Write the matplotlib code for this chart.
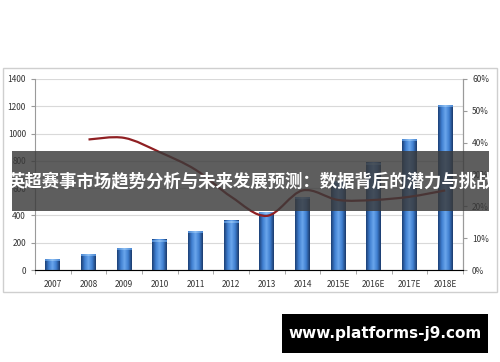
import numpy as np
import matplotlib.pyplot as plt
from matplotlib.colors import LinearSegmentedColormap
from matplotlib.patches import Rectangle, PathPatch
from matplotlib.path import Path
from matplotlib.ticker import FuncFormatter, MultipleLocator

plt.rcParams['font.family'] = ['Noto Sans CJK SC', 'DejaVu Sans']

# data
years = ['2007', '2008', '2009', '2010', '2011', '2012',
         '2013', '2014', '2015E', '2016E', '2017E', '2018E']
revenue = [80, 115, 160, 220, 285, 360, 420, 530, 650, 785, 960, 1205]
growth_years = years[1:]
growth = [41, 41.5, 37, 31.5, 23, 17, 25, 22, 22, 23, 25]

title = '英超赛事市场趋势分析与未来发展预测：数据背后的潜力与挑战'
site = 'www.platforms-j9.com'


def smooth_path(xs, ys, tension=1 / 6):
    # Catmull-Rom through the data points, as bezier segments
    verts = [(xs[0], ys[0])]
    codes = [Path.MOVETO]
    n = len(xs)
    for i in range(n - 1):
        x0, y0 = xs[max(i - 1, 0)], ys[max(i - 1, 0)]
        x1, y1 = xs[i], ys[i]
        x2, y2 = xs[i + 1], ys[i + 1]
        x3, y3 = xs[min(i + 2, n - 1)], ys[min(i + 2, n - 1)]
        c1 = (x1 + (x2 - x0) * tension, y1 + (y2 - y0) * tension)
        c2 = (x2 - (x3 - x1) * tension, y2 - (y3 - y1) * tension)
        verts += [c1, c2, (x2, y2)]
        codes += [Path.CURVE4] * 3
    return Path(verts, codes)


fig = plt.figure(figsize=(5, 3.62), dpi=100)

# chart frame
fig.patches.append(Rectangle((0.006, 0.193), 0.988, 0.619, transform=fig.transFigure,
                             facecolor='white', edgecolor='#cfcfcf', lw=1, zorder=-1))

ax = fig.add_axes([0.07, 0.2541, 0.856, 0.5277])
ax.set_facecolor('none')
x = np.arange(len(years))
bars = ax.bar(x, revenue, width=0.42, color='#3a74c0', zorder=2)

cmap = LinearSegmentedColormap.from_list('cyl', ['#1c3f75', '#3f7fd0', '#6aa6ec', '#3f7fd0', '#1a3a6c'])
grad = np.linspace(0, 1, 64).reshape(1, -1)
for b in bars:
    x0, w, h = b.get_x(), b.get_width(), b.get_height()
    ax.imshow(grad, extent=[x0, x0 + w, 0, h], cmap=cmap, aspect='auto', zorder=2.1)
    ax.imshow(grad, extent=[x0, x0 + w, h - 12, h], cmap=LinearSegmentedColormap.from_list(
        'cap', ['#4a86d0', '#8ec0f5', '#4a86d0']), aspect='auto', zorder=2.2)

ax.set_xlim(-0.5, len(years) - 0.5)
ax.set_ylim(0, 1400)
ax.yaxis.set_major_locator(MultipleLocator(200))
ax.grid(axis='y', color='#d9d9d9', lw=0.8, zorder=0)
ax.set_axisbelow(True)
ax.set_xticks(x)
ax.set_xticklabels(years)
ax.set_xticks(np.arange(-0.5, len(years)), minor=True)
ax.tick_params(axis='x', which='major', length=0, labelsize=6, labelcolor='#333333', pad=7)
ax.tick_params(axis='x', which='minor', length=3, color='#9a9a9a')
ax.tick_params(axis='y', labelsize=6, labelcolor='#333333', length=3, color='#9a9a9a')
ax.spines['top'].set_visible(False)
for s in ['left', 'bottom', 'right']:
    ax.spines[s].set_color('#9a9a9a')
    ax.spines[s].set_linewidth(0.8)

ax2 = ax.twinx()
ax2.set_ylim(0, 60)
ax2.yaxis.set_major_locator(MultipleLocator(10))
ax2.yaxis.set_major_formatter(FuncFormatter(lambda v, p: f'{int(v)}%'))
ax2.tick_params(axis='y', labelsize=6, labelcolor='#333333', length=3, color='#9a9a9a')
ax2.spines['top'].set_visible(False)
ax2.spines['right'].set_color('#9a9a9a')
ax2.spines['left'].set_visible(False)
gx = [years.index(g) for g in growth_years]
ax2.add_patch(PathPatch(smooth_path(gx, growth), facecolor='none',
                        edgecolor='#8f1f22', lw=1.6, zorder=3))

# title banner over the chart
fig.patches.append(Rectangle((0.024, 0.417), 0.954, 0.166, transform=fig.transFigure,
                             facecolor='#3a3a3a', alpha=0.82, edgecolor='none', zorder=5))
fig.text(0.501, 0.5, title, color='white', fontsize=12.5, fontweight='bold',
         ha='center', va='center', zorder=6)

# site label
fig.patches.append(Rectangle((0.564, 0.025), 0.412, 0.108, transform=fig.transFigure,
                             facecolor='black', edgecolor='none', zorder=5))
fig.text(0.77, 0.079, site, color='white', fontsize=11, fontweight='bold',
         family=['DejaVu Sans'], ha='center', va='center', zorder=6)

fig.savefig('out.png', dpi=100)
